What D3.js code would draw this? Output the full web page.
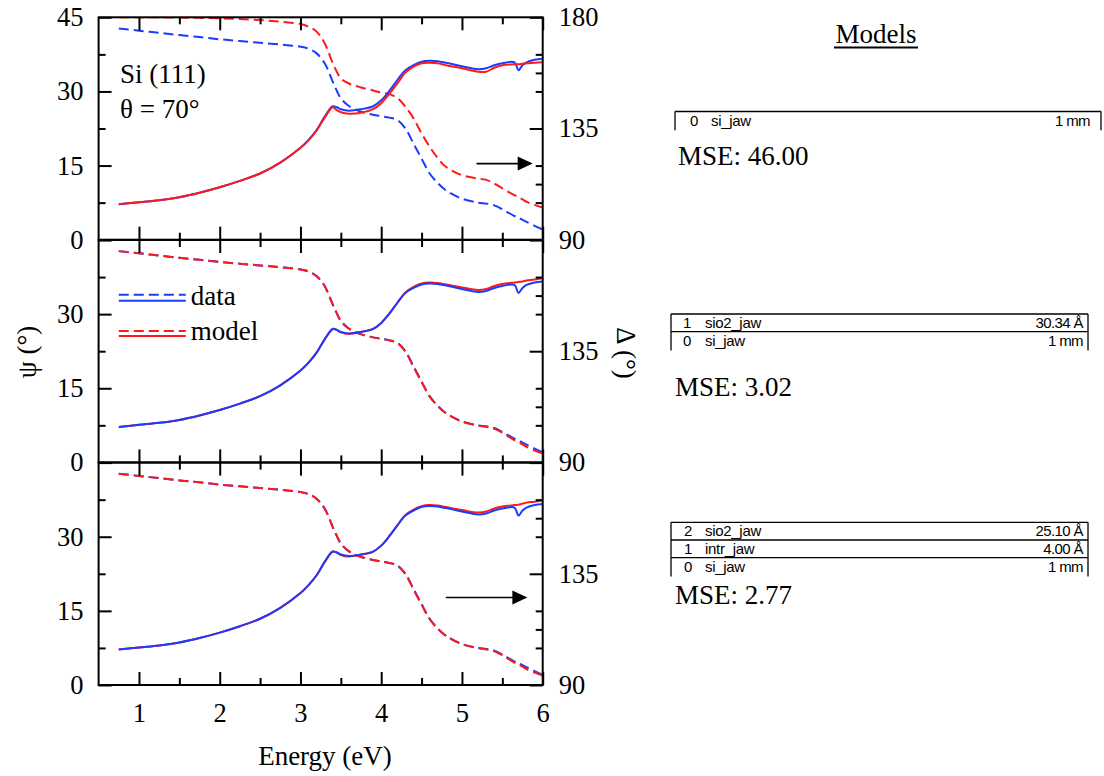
<!DOCTYPE html>
<html><head><meta charset="utf-8">
<script src="https://cdn.jsdelivr.net/npm/d3@7"></script>
<style>body{margin:0;background:#fff}</style>
</head><body><svg id="c" width="1104" height="776"></svg>
<script>
// ---------- data ----------
const energy = [0.75,1.0,1.25,1.5,1.75,2.0,2.25,2.5,2.75,3.0,3.1,3.2,3.3,3.4,3.45,3.5,3.6,3.75,3.9,4.0,4.1,4.2,4.3,4.4,4.5,4.6,4.7,4.8,5.0,5.2,5.3,5.4,5.5,5.65,5.7,5.75,5.8,5.9,6.0];
const psiData = [7.16,7.6,8.0,8.6,9.5,10.6,11.9,13.4,15.6,18.6,20.2,22.2,24.9,27.0,26.8,26.4,26.1,26.4,27.0,28.2,30.1,32.3,34.3,35.3,36.0,36.2,36.1,35.8,35.1,34.5,34.7,35.3,35.7,35.9,34.3,35.3,35.9,36.4,36.6];
const psiModel1 = [7.16,7.6,8.0,8.6,9.5,10.6,11.9,13.4,15.6,18.6,20.1,22.1,24.7,26.8,26.2,25.8,25.5,25.7,26.4,27.6,29.5,31.6,33.8,35.0,35.7,35.8,35.7,35.3,34.7,34.0,34.0,34.8,35.3,35.5,35.5,35.6,35.7,35.8,35.9];
const psiModel2 = [7.16,7.6,8.0,8.6,9.5,10.6,11.9,13.4,15.6,18.6,20.2,22.2,24.9,27.0,26.8,26.3,26.0,26.4,27.0,28.2,30.1,32.3,34.4,35.5,36.2,36.4,36.3,36.0,35.4,34.9,35.1,35.7,36.1,36.4,36.5,36.6,36.8,37.0,37.3];
const psiModel3 = [7.16,7.6,8.0,8.6,9.5,10.6,11.9,13.4,15.6,18.6,20.2,22.2,24.9,27.0,26.8,26.3,26.0,26.4,27.0,28.2,30.1,32.3,34.4,35.5,36.2,36.4,36.3,36.0,35.4,34.9,35.1,35.7,36.1,36.4,36.5,36.7,36.9,37.1,37.4];
const deltaData = [175.5,174.6,173.7,172.8,172.0,171.1,170.4,169.7,169.0,168.1,167.3,165.4,161.4,153.9,150.3,147.2,144.1,141.8,140.6,140.0,139.4,138.4,135.0,128.9,122.8,116.8,112.9,110.0,106.6,105.0,104.6,103.9,102.3,99.6,98.9,98.0,97.2,95.6,94.1];
const deltaModel1 = [180.0,180.0,180.0,179.9,179.8,179.6,179.3,178.9,178.2,177.3,176.2,174.2,169.5,161.4,158.0,155.3,153.2,151.6,150.4,149.5,148.9,147.3,143.8,139.1,133.0,127.6,123.0,119.5,116.1,114.7,114.2,112.7,110.8,108.0,107.2,106.3,105.3,104.1,103.0];
const deltaModel2 = [175.5,174.6,173.7,172.8,172.0,171.1,170.4,169.7,169.0,168.1,167.2,165.3,161.3,153.9,150.4,147.3,144.2,141.9,140.6,140.0,139.4,138.3,134.8,128.6,122.5,116.6,112.8,109.9,106.5,104.9,104.4,103.6,102.0,99.0,98.2,97.3,96.3,94.8,93.6];
const deltaModel3 = [175.5,174.6,173.7,172.8,172.0,171.1,170.4,169.7,169.0,168.1,167.2,165.3,161.3,153.9,150.4,147.3,144.2,141.9,140.6,140.0,139.4,138.3,134.8,128.6,122.5,116.6,112.8,109.9,106.5,104.9,104.4,103.6,102.0,99.1,98.3,97.4,96.4,95.0,93.8];

const xMajor = [1,2,3,4,5,6];
const xMinor = [1.5,2.5,3.5,4.5,5.5];
const psiMajor = [0,15,30,45];
const psiMinor = [7.5,22.5,37.5];
const deltaMajor = [90,135,180];
const deltaMinor = [112.5,157.5];
const psiLabels1 = [0,15,30,45], psiLabels2 = [0,15,30], psiLabels3 = [0,15,30];
const deltaLabels1 = [90,135,180], deltaLabels2 = [90,135], deltaLabels3 = [90,135];

const stackNames1 = ["si_jaw"], stackThick1 = ["1 mm"];
const stackNames2 = ["sio2_jaw","si_jaw"], stackThick2 = ["30.34 Å","1 mm"];
const stackNames3 = ["sio2_jaw","intr_jaw","si_jaw"], stackThick3 = ["25.10 Å","4.00 Å","1 mm"];
const mseValues = ["46.00","3.02","2.77"];

// ---------- layout ----------
const BLUE = "#1a3cff", RED = "#ff1a1a";
const SERIF = "Liberation Serif, Times New Roman, serif";
const SANS = "Liberation Sans, Arial, sans-serif";
const svg = d3.select("#c");
const X0 = 98.6, X1 = 542.7;
const tops = [17.3, 240.0, 462.6], PH = 222.4;
const x = d3.scaleLinear().domain([0.5, 6]).range([X0, X1]);

const panels = [
  {psiM: psiModel1, delM: deltaModel1, psiL: psiLabels1, delL: deltaLabels1},
  {psiM: psiModel2, delM: deltaModel2, psiL: psiLabels2, delL: deltaLabels2},
  {psiM: psiModel3, delM: deltaModel3, psiL: psiLabels3, delL: deltaLabels3}
];

function styleAxis(g) {
  g.attr("font-family", null).attr("font-size", null);
  g.select(".domain").remove();
  g.selectAll(".tick line").attr("stroke", "#000").attr("stroke-width", 2);
  g.selectAll(".tick text").style("font-family", SERIF).style("font-size", "26.5px").attr("fill", "#000");
}
function serifText(sel) { return sel.style("font-family", SERIF).style("font-size", "27px"); }

panels.forEach((p, i) => {
  const top = tops[i], bot = top + PH;
  const yPsi = d3.scaleLinear().domain([0, 45]).range([bot, top]);
  const yDel = d3.scaleLinear().domain([90, 180]).range([bot, top]);

  const cid = "clip" + i;
  svg.append("clipPath").attr("id", cid).append("rect")
    .attr("x", X0).attr("y", top).attr("width", X1 - X0).attr("height", PH);

  const plot = svg.append("g").attr("clip-path", `url(#${cid})`);
  const linePsi = arr => d3.line().x((d, k) => x(energy[k])).y(d => yPsi(d)).curve(d3.curveCatmullRom.alpha(0.5))(arr);
  const lineDel = arr => d3.line().x((d, k) => x(energy[k])).y(d => yDel(d)).curve(d3.curveCatmullRom.alpha(0.5))(arr);

  plot.append("path").attr("d", lineDel(deltaData)).attr("fill", "none").attr("stroke", BLUE).attr("stroke-width", 2).attr("stroke-dasharray", "10,5");
  plot.append("path").attr("d", lineDel(p.delM)).attr("fill", "none").attr("stroke", RED).attr("stroke-width", 2).attr("stroke-dasharray", "10,5");
  if (i === 0) {
    plot.append("path").attr("d", linePsi(psiData)).attr("fill", "none").attr("stroke", BLUE).attr("stroke-width", 2);
    plot.append("path").attr("d", linePsi(p.psiM)).attr("fill", "none").attr("stroke", RED).attr("stroke-width", 2);
  } else {
    plot.append("path").attr("d", linePsi(p.psiM)).attr("fill", "none").attr("stroke", RED).attr("stroke-width", 2);
    plot.append("path").attr("d", linePsi(psiData)).attr("fill", "none").attr("stroke", BLUE).attr("stroke-width", 2);
  }

  // left axis
  styleAxis(svg.append("g").attr("transform", `translate(${X0},0)`)
    .call(d3.axisLeft(yPsi).tickValues(psiMajor).tickSize(-13).tickPadding(15)
      .tickFormat(v => p.psiL.includes(v) ? v : "")));
  styleAxis(svg.append("g").attr("transform", `translate(${X0},0)`)
    .call(d3.axisLeft(yPsi).tickValues(psiMinor).tickSize(-7).tickFormat("")));

  // right axis
  styleAxis(svg.append("g").attr("transform", `translate(${X1},0)`)
    .call(d3.axisRight(yDel).tickValues(deltaMajor).tickSize(-13).tickPadding(16)
      .tickFormat(v => p.delL.includes(v) ? v : "")));
  styleAxis(svg.append("g").attr("transform", `translate(${X1},0)`)
    .call(d3.axisRight(yDel).tickValues(deltaMinor).tickSize(-7).tickFormat("")));
  styleAxis(svg.append("g").attr("transform", `translate(${X1},0)`)
    .call(d3.axisRight(yPsi).tickValues([7.5, 15, 30, 37.5]).tickSize(-7).tickFormat("")));

  // top & bottom x ticks
  styleAxis(svg.append("g").attr("transform", `translate(0,${top})`)
    .call(d3.axisTop(x).tickValues(xMajor).tickSize(-13).tickFormat("")));
  styleAxis(svg.append("g").attr("transform", `translate(0,${top})`)
    .call(d3.axisTop(x).tickValues(xMinor).tickSize(-7).tickFormat("")));
  styleAxis(svg.append("g").attr("transform", `translate(0,${bot})`)
    .call(d3.axisBottom(x).tickValues(xMajor).tickSize(-13).tickPadding(18)
      .tickFormat(v => i === 2 ? v : "")));
  styleAxis(svg.append("g").attr("transform", `translate(0,${bot})`)
    .call(d3.axisBottom(x).tickValues(xMinor).tickSize(-7).tickFormat("")));

  // frame
  svg.append("rect").attr("x", X0).attr("y", top).attr("width", X1 - X0).attr("height", PH)
    .attr("fill", "none").attr("stroke", "#000").attr("stroke-width", 2);

  // arrows
  const arrow = (e0, e1, ps) => {
    const ay = yPsi(ps), ax0 = x(e0), ax1 = x(e1);
    svg.append("line").attr("x1", ax0).attr("x2", ax1 - 12).attr("y1", ay).attr("y2", ay)
      .attr("stroke", "#000").attr("stroke-width", 1.6);
    svg.append("path").attr("d", `M${ax1},${ay} L${ax1 - 15},${ay - 7} L${ax1 - 15},${ay + 7} Z`).attr("fill", "#000");
  };
  if (i === 0) {
    arrow(5.18, 5.876, 15.4);
    serifText(svg.append("text").attr("x", 120).attr("y", yPsi(31.8))).text("Si (111)");
    serifText(svg.append("text").attr("x", 120).attr("y", yPsi(24.7))).text("θ = 70°");
  }
  if (i === 2) arrow(4.8, 5.81, 17.7);
  if (i === 1) {
    const lx0 = x(0.75), lx1 = x(1.58);
    const leg = [[BLUE, yPsi(33.9), yPsi(32.7), "data"], [RED, yPsi(26.6), yPsi(25.6), "model"]];
    leg.forEach(([c, yd, ys, t]) => {
      svg.append("line").attr("x1", lx0).attr("x2", lx1).attr("y1", yd).attr("y2", yd).attr("stroke", c).attr("stroke-width", 2).attr("stroke-dasharray", "10,5");
      svg.append("line").attr("x1", lx0).attr("x2", lx1).attr("y1", ys).attr("y2", ys).attr("stroke", c).attr("stroke-width", 2);
      serifText(svg.append("text").attr("x", lx1 + 5).attr("y", ys + 4.5)).text(t);
    });
  }
});

// axis titles
serifText(svg.append("text").attr("x", 325).attr("y", 765).attr("text-anchor", "middle")).text("Energy (eV)");
serifText(svg.append("text").attr("transform", "translate(27,352) rotate(-90)").attr("text-anchor", "middle").attr("dy", "0.35em")).text("ψ (°)");
serifText(svg.append("text").attr("transform", "translate(626,353) rotate(90)").attr("text-anchor", "middle").attr("dy", "0.35em")).text("Δ (°)");

// models panel
serifText(svg.append("text").attr("x", 876).attr("y", 43).attr("text-anchor", "middle")).text("Models");
svg.append("line").attr("x1", 834).attr("x2", 918).attr("y1", 47.5).attr("y2", 47.5).attr("stroke", "#000").attr("stroke-width", 1.8);

function stack(names, thick, left, right, top, numX, nameX, thickX, mse, mseX, mseY) {
  const rh = 17.7, n = names.length;
  const g = svg.append("g");
  const sans = sel => sel.style("font-family", SANS).style("font-size", "15px");
  for (let k = 0; k < n; k++) {
    const ry = top + k * rh;
    g.append("line").attr("x1", left).attr("x2", right).attr("y1", ry).attr("y2", ry).attr("stroke", "#000").attr("stroke-width", 1.3);
    const idx = n - 1 - k;
    sans(g.append("text").attr("x", numX).attr("y", ry + 14)).text(idx);
    sans(g.append("text").attr("x", nameX).attr("y", ry + 14).attr("letter-spacing", "-0.3")).text(names[k]);
    sans(g.append("text").attr("x", thickX).attr("y", ry + 14).attr("text-anchor", "end").attr("letter-spacing", "-0.6")).text(thick[k]);
  }
  const yb = top + n * rh + 1;
  g.append("line").attr("x1", left).attr("x2", left).attr("y1", top).attr("y2", yb).attr("stroke", "#000").attr("stroke-width", 1.3);
  g.append("line").attr("x1", right).attr("x2", right).attr("y1", top).attr("y2", yb).attr("stroke", "#000").attr("stroke-width", 1.3);
  serifText(g.append("text").attr("x", mseX).attr("y", mseY)).text("MSE: " + mse);
}
stack(stackNames1, stackThick1, 675, 1101, 111.5, 690, 711, 1090, mseValues[0], 678, 165);
stack(stackNames2, stackThick2, 671, 1088, 314, 683, 705, 1083, mseValues[1], 675, 396);
stack(stackNames3, stackThick3, 671, 1088, 522.3, 684, 705, 1083, mseValues[2], 675, 604);
</script>
</body></html>
